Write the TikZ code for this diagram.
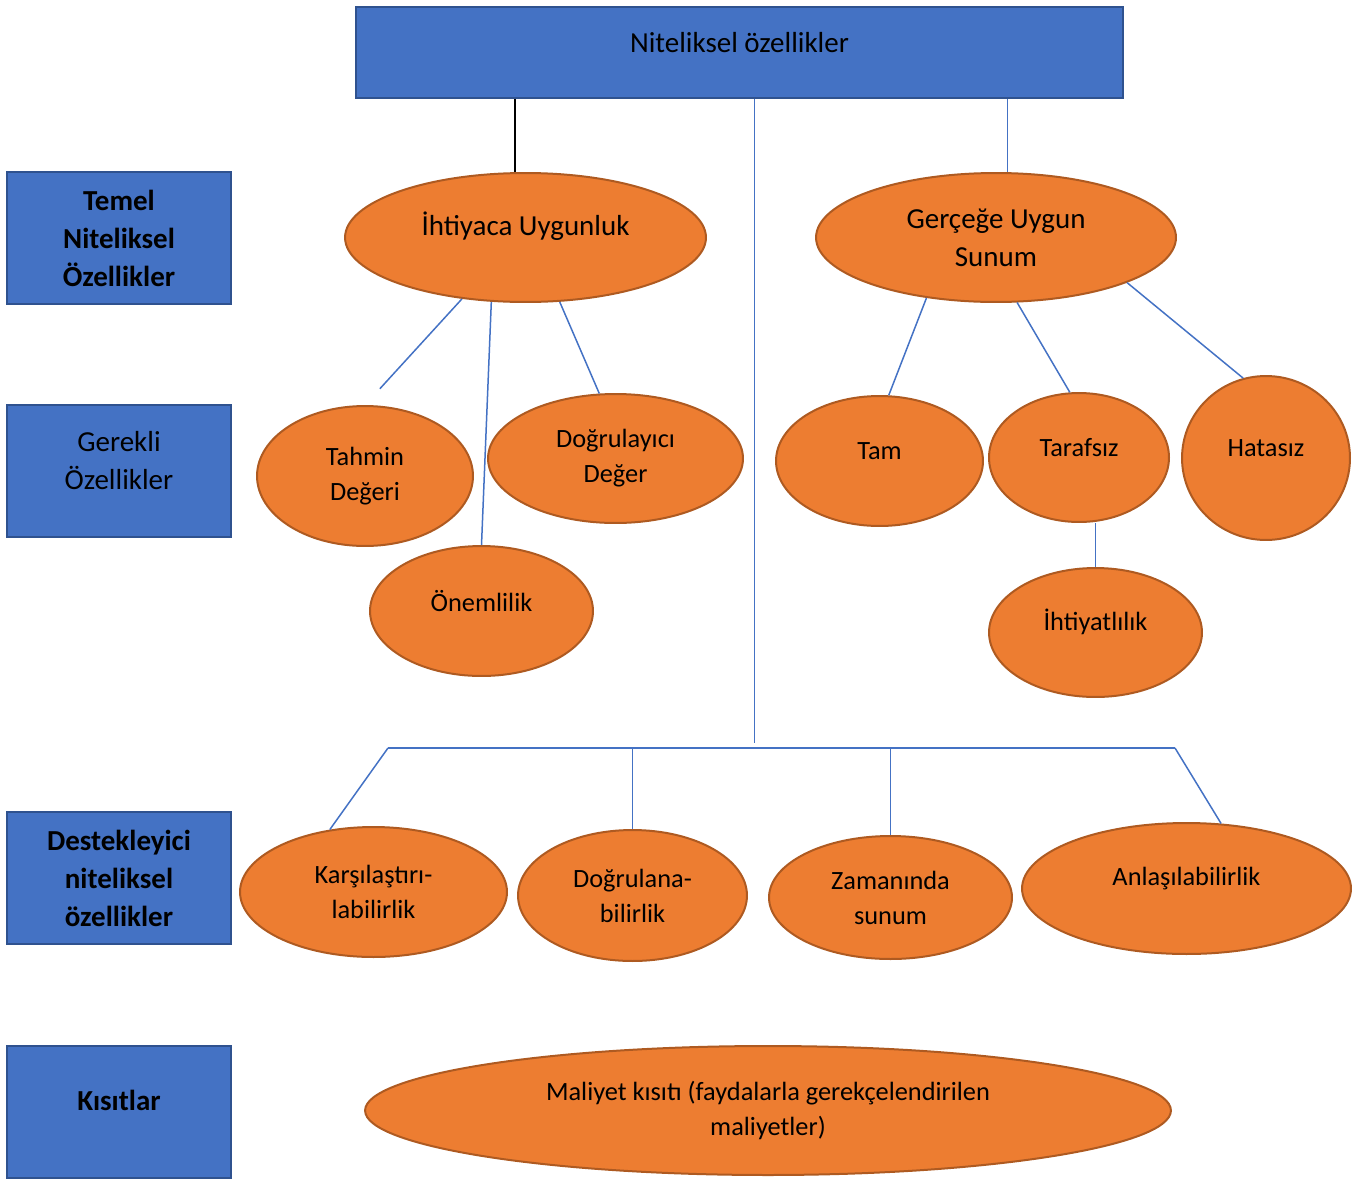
\documentclass[tikz,border=0pt]{standalone}
\usepackage{fontspec}
\setmainfont{Carlito}
\usetikzlibrary{shapes.geometric}

\definecolor{boxblue}{HTML}{4472C4}
\definecolor{boxedge}{HTML}{2F528F}
\definecolor{ovalfill}{HTML}{ED7D31}
\definecolor{ovaledge}{HTML}{AE5A21}

\newcommand{\mainsize}{\fontsize{16.5pt}{21.6pt}\selectfont}
\newcommand{\subsize}{\fontsize{15pt}{20pt}\selectfont}

\begin{document}
\begin{tikzpicture}[x=0.02cm, y=-0.02cm,
    box/.style={rectangle, draw=boxedge, fill=boxblue, line width=0.04cm, inner sep=0pt, align=center, font=\mainsize, minimum width=4.48cm, minimum height=2.64cm},
    oval/.style={ellipse, draw=ovaledge, fill=ovalfill, line width=0.04cm, inner sep=0pt, align=center, font=\subsize},
    lift/.style={text depth=#1},
    link/.style={draw=boxblue, line width=0.03cm},
    barline/.style={draw=boxblue, line width=0.045cm}]

      \useasboundingbox (0,0) rectangle (1365,1180);

      % Define boxes
      \node[box, minimum width=15.34cm, minimum height=1.82cm, lift=12pt] (top) at (739.5,52.5) {Niteliksel özellikler};
      \node[box, font=\mainsize\bfseries] (temel) at (119,238) {Temel\\Niteliksel\\Özellikler};
      \node[box, lift=12pt] (gerekli) at (119,471) {Gerekli\\Özellikler};
      \node[box, font=\mainsize\bfseries] (destek) at (119,878) {Destekleyici\\niteliksel\\özellikler};
      \node[box, font=\mainsize\bfseries, lift=12.6pt] (kisit) at (119,1111.5) {Kısıtlar};

      % Define ellipses
      \node[oval, font=\mainsize, minimum width=7.22cm, minimum height=2.58cm, lift=15.3pt] (ihtiyac) at (525.5,237.5) {İhtiyaca Uygunluk};
      \node[oval, font=\mainsize, minimum width=7.20cm, minimum height=2.58cm] (gercege) at (996,237.5) {Gerçeğe Uygun\\Sunum};
      \node[oval, minimum width=4.32cm, minimum height=2.80cm] (tahmin) at (365,476) {Tahmin\\Değeri};
      \node[oval, minimum width=5.10cm, minimum height=2.58cm] (dogrulayici) at (615.5,458.5) {Doğrulayıcı\\Değer};
      \node[oval, minimum width=4.46cm, minimum height=2.60cm, lift=11.4pt] (onem) at (481.5,611) {Önemlilik};
      \node[oval, minimum width=4.14cm, minimum height=2.60cm, lift=11.4pt] (tam) at (879.5,461) {Tam};
      \node[oval, minimum width=3.60cm, minimum height=2.58cm, lift=11.4pt] (taraf) at (1079,457.5) {Tarafsız};
      \node[oval, minimum width=3.36cm, minimum height=3.28cm, lift=11.4pt] (hatasiz) at (1266,458) {Hatasız};
      \node[oval, minimum width=4.26cm, minimum height=2.58cm, lift=14.4pt] (ihtiyat) at (1095.5,632.5) {İhtiyatlılık};
      \node[oval, minimum width=5.34cm, minimum height=2.60cm] (kars) at (373.5,892) {Karşılaştırı-\\labilirlik};
      \node[oval, minimum width=4.58cm, minimum height=2.62cm] (dogrulana) at (632.5,895.5) {Doğrulana-\\bilirlik};
      \node[oval, minimum width=4.86cm, minimum height=2.46cm] (zaman) at (890.5,897.5) {Zamanında\\sunum};
      \node[oval, minimum width=6.58cm, minimum height=2.62cm, lift=14pt] (anlas) at (1186.5,888.5) {Anlaşılabilirlik};
      \node[oval, minimum width=16.12cm, minimum height=2.58cm] (maliyet) at (768,1110.5) {Maliyet kısıtı (faydalarla gerekçelendirilen\\maliyetler)};

      % Define bar
      \coordinate (trunk) at (754.5,743);
      \coordinate (barL) at (388,748);
      \coordinate (barR) at (1175,748);
      \draw[barline] (barL) -- (barR);

      % Define lines
      \path (ihtiyac.99 |- top.south) edge [black, line width=0.03cm] (ihtiyac.99)
            (gercege.80 |- top.south) edge [link] (gercege.80)
            (top.south -| trunk) edge [link] (trunk)
            (ihtiyac.224) edge [link, shorten >=0.44cm] (tahmin.north)
            (ihtiyac.242) edge [link] (onem.north)
            (ihtiyac.298) edge [link] (dogrulayici.104)
            (gercege.221) edge [link] (tam.82)
            (gercege.288) edge [link] (taraf.98)
            (gercege.341) edge [link] (hatasiz.106)
            (ihtiyat.north |- taraf.south) edge [link] (ihtiyat.north)
            (barL) edge [link] (kars.125)
            (dogrulana.north |- barL) edge [link] (dogrulana.north)
            (zaman.north |- barL) edge [link] (zaman.north)
            (barR) edge [link] (anlas.62);

    \end{tikzpicture}
\end{document}
